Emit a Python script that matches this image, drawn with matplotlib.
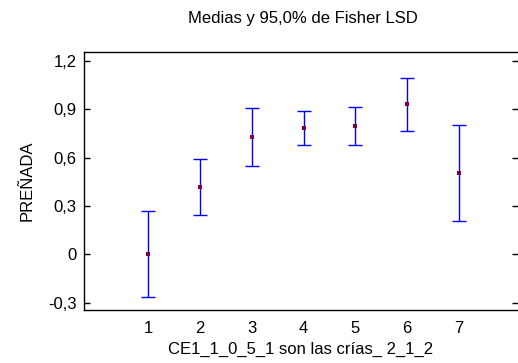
import matplotlib
matplotlib.use('Agg')
import matplotlib.pyplot as plt
import numpy as np

# datos
groups = [1, 2, 3, 4, 5, 6, 7]
means = [0.0, 0.42, 0.73, 0.785, 0.795, 0.93, 0.505]
half_lsd = [0.266, 0.174, 0.18, 0.105, 0.12, 0.163, 0.296]
yticks = [-0.3, 0, 0.3, 0.6, 0.9, 1.2]
ytick_labels = ['-0,3', '0', '0,3', '0,6', '0,9', '1,2']

plt.rcParams['font.family'] = ['Liberation Sans', 'DejaVu Sans']
plt.rcParams['font.size'] = 12

W, H = 518, 363
fig = plt.figure(figsize=(W / 100, H / 100), dpi=100)
ax = fig.add_axes([83.5 / W, (H - 310) / H, (W - 83.5) / W, (310 - 51.7) / H])

ax.errorbar(groups, means, yerr=half_lsd, fmt='none', ecolor='#0000ff',
            elinewidth=1.0, capsize=5, capthick=1.0)
ax.plot(groups, means, 's', color='#80004a', markersize=2.2, markeredgewidth=0)

ax.set_xlim(-0.25, 8.14)
ax.set_ylim(-0.345, 1.256)
ax.set_xticks(groups)
ax.set_xticklabels([str(g) for g in groups])
ax.set_yticks(yticks)
ax.set_yticklabels(ytick_labels)

ax.tick_params(axis='x', length=0, pad=8)
ax.tick_params(axis='y', direction='in', length=4, width=1, left=True, right=True, pad=5)
ax.spines['right'].set_visible(False)
for s in ['left', 'top', 'bottom']:
    ax.spines[s].set_linewidth(1.0)

ax.set_xlabel('CE1_1_0_5_1 son las crías_ 2_1_2', labelpad=4)
ax.set_ylabel('PREÑADA', labelpad=10)
fig.text(303 / W, 1 - 18 / H, 'Medias y 95,0% de Fisher LSD', ha='center', va='center')

fig.savefig('out.png', dpi=100)
